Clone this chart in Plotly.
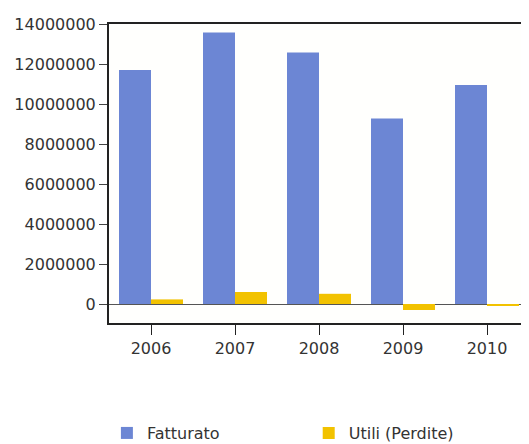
import plotly.graph_objects as go

years = ["2006", "2007", "2008", "2009", "2010"]
fatturato = [11700000, 13580000, 12570000, 9280000, 10950000]
utili = [230000, 600000, 510000, -300000, -100000]
y_ticks = [0, 2000000, 4000000, 6000000, 8000000, 10000000, 12000000, 14000000]

fig = go.Figure()
fig.add_trace(go.Bar(x=years, y=fatturato, name="Fatturato", legend="legend",
                     marker=dict(color="#6c86d4", line=dict(width=0))))
fig.add_trace(go.Bar(x=years, y=utili, name="Utili (Perdite)", legend="legend2",
                     marker=dict(color="#f2c200", line=dict(width=0))))

legend_font = dict(family="DejaVu Sans", size=16, color="#333333")

# page body has an 8px margin, so the figure is 8px smaller and shifted
fig.update_layout(
    width=521, height=436,
    margin=dict(l=101, r=0, t=16, b=121, autoexpand=False),
    paper_bgcolor="white", plot_bgcolor="#fffffd",
    barmode="group", bargap=0.238, bargroupgap=0,
    font=dict(family="DejaVu Sans", size=16, color="#333333"),
    showlegend=True,
    legend=dict(orientation="h", x=-0.005, xanchor="left", y=-0.368, yanchor="middle",
                font=legend_font, bgcolor="rgba(0,0,0,0)"),
    legend2=dict(orientation="h", x=0.4755, xanchor="left", y=-0.368, yanchor="middle",
                 font=legend_font, bgcolor="rgba(0,0,0,0)"),
    xaxis=dict(showline=True, linecolor="#222222", linewidth=2, mirror=True,
               ticks="outside", ticklen=10, tickcolor="#222222", tickwidth=1,
               showgrid=False, automargin=False),
    yaxis=dict(range=[-950000, 14000000], tickvals=y_ticks, tickformat="d",
               showline=True, linecolor="#222222", linewidth=2,
               ticks="outside", ticklen=8, tickcolor="#444444", tickwidth=1,
               showgrid=False, zeroline=True, zerolinecolor="#555555", zerolinewidth=1,
               automargin=False),
)

fig.write_html("out.html")
